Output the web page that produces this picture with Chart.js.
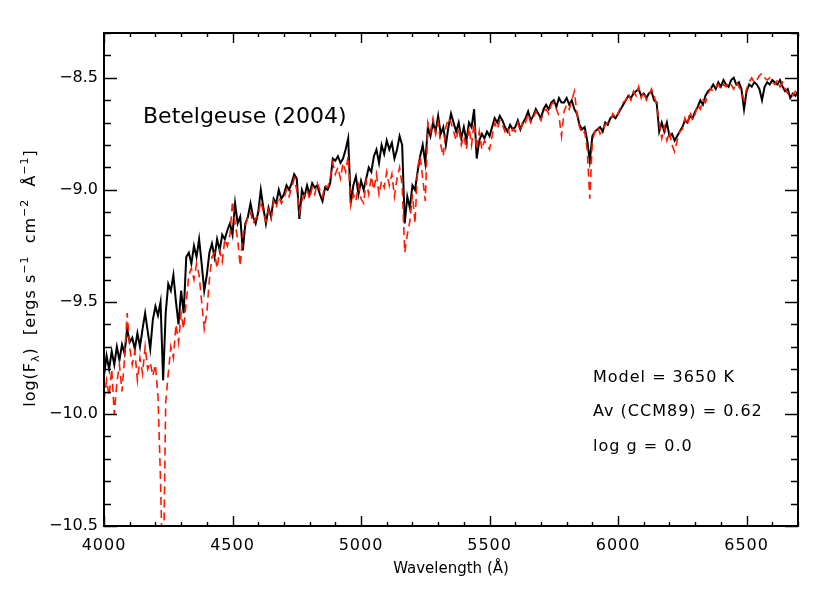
<!DOCTYPE html>
<html>
<head>
<meta charset="utf-8">
<title>Betelgeuse (2004)</title>
<script src="https://cdn.jsdelivr.net/npm/chart.js@4.4.1/dist/chart.umd.min.js"></script>
<style>
    body { margin: 0; background: #fff; }
    #spectrumChart { display: block; }
</style>
</head>
<body>
<canvas id="spectrumChart" width="830" height="593"></canvas>
<script>
// Wavelength grid (Angstrom)
const wavelengths = [
    4000, 4010, 4020, 4030, 4040, 4050, 4060, 4070, 4080, 4090,
    4100, 4110, 4120, 4130, 4140, 4150, 4160, 4170, 4180, 4190,
    4200, 4210, 4220, 4230, 4240, 4250, 4260, 4270, 4280, 4290,
    4300, 4310, 4320, 4330, 4340, 4350, 4360, 4370, 4380, 4390,
    4400, 4410, 4420, 4430, 4440, 4450, 4460, 4470, 4480, 4490,
    4500, 4510, 4520, 4530, 4540, 4550, 4560, 4570, 4580, 4590,
    4600, 4610, 4620, 4630, 4640, 4650, 4660, 4670, 4680, 4690,
    4700, 4710, 4720, 4730, 4740, 4750, 4760, 4770, 4780, 4790,
    4800, 4810, 4820, 4830, 4840, 4850, 4860, 4870, 4880, 4890,
    4900, 4910, 4920, 4930, 4940, 4950, 4960, 4970, 4980, 4990,
    5000, 5010, 5020, 5030, 5040, 5050, 5060, 5070, 5080, 5090,
    5100, 5110, 5120, 5130, 5140, 5150, 5160, 5170, 5180, 5190,
    5200, 5210, 5220, 5230, 5240, 5250, 5260, 5270, 5280, 5290,
    5300, 5310, 5320, 5330, 5340, 5350, 5360, 5370, 5380, 5390,
    5400, 5410, 5420, 5430, 5440, 5450, 5460, 5470, 5480, 5490,
    5500, 5510, 5520, 5530, 5540, 5550, 5560, 5570, 5580, 5590,
    5600, 5610, 5620, 5630, 5640, 5650, 5660, 5670, 5680, 5690,
    5700, 5710, 5720, 5730, 5740, 5750, 5760, 5770, 5780, 5790,
    5800, 5810, 5820, 5830, 5840, 5850, 5860, 5870, 5880, 5890,
    5900, 5910, 5920, 5930, 5940, 5950, 5960, 5970, 5980, 5990,
    6000, 6010, 6020, 6030, 6040, 6050, 6060, 6070, 6080, 6090,
    6100, 6110, 6120, 6130, 6140, 6150, 6160, 6170, 6180, 6190,
    6200, 6210, 6220, 6230, 6240, 6250, 6260, 6270, 6280, 6290,
    6300, 6310, 6320, 6330, 6340, 6350, 6360, 6370, 6380, 6390,
    6400, 6410, 6420, 6430, 6440, 6450, 6460, 6470, 6480, 6490,
    6500, 6510, 6520, 6530, 6540, 6550, 6560, 6570, 6580, 6590,
    6600, 6610, 6620, 6630, 6640, 6650, 6660, 6670, 6680, 6690,
    6700
];

// Observed spectrum (black, solid) - log(F_lambda)
const observedFlux = [
    -9.83, -9.74, -9.80, -9.72, -9.78, -9.70, -9.76, -9.69, -9.73, -9.62,
    -9.68, -9.66, -9.71, -9.64, -9.70, -9.62, -9.55, -9.63, -9.71, -9.58,
    -9.52, -9.56, -9.50, -9.85, -9.55, -9.42, -9.45, -9.38, -9.50, -9.60,
    -9.45, -9.55, -9.30, -9.28, -9.33, -9.25, -9.30, -9.22, -9.33, -9.45,
    -9.38, -9.28, -9.24, -9.30, -9.22, -9.27, -9.20, -9.22, -9.18, -9.15,
    -9.20, -9.06, -9.15, -9.12, -9.27, -9.15, -9.12, -9.06, -9.12, -9.15,
    -9.10, -9.00, -9.08, -9.15, -9.08, -9.12, -9.04, -9.06, -9.00, -9.04,
    -9.02, -8.98, -9.00, -8.97, -8.93, -8.95, -9.13, -9.00, -9.03, -8.98,
    -9.02, -8.97, -8.99, -8.98, -9.02, -9.05, -8.99, -9.00, -8.97, -8.86,
    -8.87, -8.85, -8.88, -8.86, -8.82, -8.77, -9.06, -8.98, -8.94, -9.02,
    -8.96, -9.00, -8.95, -8.90, -8.92, -8.85, -8.82, -8.88, -8.80, -8.84,
    -8.78, -8.82, -8.79, -8.86, -8.82, -8.76, -8.80, -9.15, -9.03, -9.08,
    -8.98, -9.00, -8.92, -8.85, -8.80, -8.88, -8.72, -8.76, -8.70, -8.74,
    -8.67, -8.75, -8.72, -8.80, -8.72, -8.66, -8.70, -8.74, -8.70, -8.77,
    -8.72, -8.78, -8.70, -8.72, -8.64, -8.86, -8.78, -8.75, -8.77, -8.74,
    -8.76, -8.72, -8.68, -8.70, -8.67, -8.69, -8.72, -8.74, -8.71, -8.73,
    -8.72, -8.69, -8.73, -8.70, -8.68, -8.65, -8.69, -8.67, -8.64, -8.66,
    -8.68, -8.64, -8.62, -8.64, -8.61, -8.60, -8.63, -8.59, -8.61, -8.61,
    -8.59, -8.62, -8.60, -8.64, -8.66, -8.71, -8.73, -8.72, -8.78, -8.87,
    -8.76, -8.74, -8.73, -8.72, -8.74, -8.70, -8.71, -8.68, -8.67, -8.68,
    -8.66, -8.64, -8.62, -8.60, -8.58, -8.59, -8.57, -8.56, -8.55, -8.58,
    -8.57, -8.59, -8.57, -8.56, -8.60, -8.61, -8.74, -8.70, -8.74, -8.70,
    -8.76, -8.75, -8.78, -8.76, -8.74, -8.72, -8.69, -8.70, -8.67, -8.68,
    -8.65, -8.63, -8.60, -8.62, -8.58, -8.56, -8.55, -8.53, -8.55, -8.52,
    -8.54, -8.51, -8.53, -8.54, -8.51, -8.50, -8.53, -8.52, -8.55, -8.64,
    -8.56, -8.53, -8.54, -8.52, -8.53, -8.55, -8.60, -8.54, -8.52, -8.53,
    -8.51, -8.52, -8.53, -8.51, -8.54, -8.56, -8.55, -8.59, -8.57, -8.58,
    -8.56
];

// Model spectrum (red, dashed)
const modelFlux = [
    -9.94, -9.85, -9.92, -9.80, -10.00, -9.86, -9.78, -9.90, -9.75, -9.55,
    -9.70, -9.78, -9.72, -9.85, -9.75, -9.82, -9.70, -9.80, -9.77, -9.83,
    -9.78, -9.92, -10.30, -10.80, -9.95, -9.82, -9.70, -9.75, -9.60, -9.68,
    -9.55, -9.62, -9.50, -9.38, -9.35, -9.40, -9.33, -9.38, -9.50, -9.62,
    -9.55, -9.40, -9.30, -9.28, -9.35, -9.27, -9.32, -9.22, -9.25, -9.20,
    -9.05, -9.15, -9.22, -9.34, -9.20, -9.16, -9.12, -9.10, -9.15, -9.13,
    -9.11, -9.05, -9.10, -9.14, -9.09, -9.13, -9.05, -9.08, -9.03, -9.06,
    -9.04, -9.00, -9.03, -8.99, -8.95, -9.00, -9.10, -9.05, -9.02, -9.00,
    -9.04, -8.99, -9.02, -8.97, -9.00, -9.03, -8.98, -8.99, -8.95, -8.88,
    -8.93, -8.90, -8.95, -8.88, -8.92, -8.85, -9.07, -9.02, -9.05, -8.98,
    -9.04, -9.06, -8.96, -9.02, -8.94, -9.00, -8.93, -9.02, -8.96, -8.99,
    -8.92, -8.98, -8.93, -9.03, -8.95, -8.90, -8.98, -9.28, -9.20, -9.14,
    -9.02, -9.15, -8.90, -8.85, -8.95, -9.05, -8.70, -8.74, -8.68, -8.75,
    -8.70, -8.80, -8.85, -8.72, -8.68, -8.70, -8.74, -8.78, -8.72, -8.80,
    -8.76, -8.82, -8.72, -8.80, -8.70, -8.82, -8.74, -8.82, -8.78, -8.80,
    -8.82, -8.76, -8.70, -8.73, -8.69, -8.71, -8.74, -8.72, -8.76, -8.73,
    -8.74, -8.70, -8.74, -8.69, -8.70, -8.66, -8.70, -8.68, -8.65, -8.67,
    -8.69, -8.65, -8.64, -8.66, -8.62, -8.61, -8.64, -8.67, -8.76, -8.65,
    -8.62, -8.64, -8.60, -8.56, -8.66, -8.72, -8.75, -8.74, -8.82, -9.04,
    -8.78, -8.74, -8.72, -8.75, -8.73, -8.71, -8.70, -8.69, -8.66, -8.68,
    -8.66, -8.63, -8.61, -8.60, -8.57, -8.60, -8.56, -8.58, -8.54, -8.59,
    -8.56, -8.60, -8.58, -8.55, -8.58, -8.62, -8.70, -8.77, -8.72, -8.78,
    -8.74, -8.80, -8.83, -8.78, -8.74, -8.73, -8.68, -8.71, -8.65, -8.69,
    -8.66, -8.62, -8.64, -8.60, -8.61, -8.57, -8.55, -8.56, -8.54, -8.53,
    -8.55, -8.53, -8.54, -8.52, -8.53, -8.55, -8.52, -8.54, -8.56, -8.60,
    -8.55, -8.52, -8.50, -8.52, -8.51, -8.49, -8.48, -8.50, -8.51, -8.50,
    -8.52, -8.53, -8.51, -8.54, -8.52, -8.55, -8.57, -8.56, -8.58, -8.56,
    -8.57
];

// Axis tick labels
const xTickLabels = [4000, 4500, 5000, 5500, 6000, 6500];
const yTickLabels = [-8.5, -9.0, -9.5, -10.0, -10.5];

// Annotation texts
const starTitle = 'Betelgeuse (2004)';
const modelNotes = ['Model = 3650 K', 'Av (CCM89) = 0.62', 'log g = 0.0'];

const FONT = '"DejaVu Sans", "Liberation Sans", sans-serif';

// Frame, inward ticks on all sides, labels and texts (IDL style)
const idlAxesPlugin = {
    id: 'idlAxes',
    afterDraw(chart) {
        const ctx = chart.ctx;
        const { left, right, top, bottom } = chart.chartArea;
        const xs = chart.scales.x;
        const ys = chart.scales.y;

        ctx.save();
        ctx.strokeStyle = '#000';
        ctx.fillStyle = '#000';

        // minor / major ticks on the x axis (bottom + top)
        ctx.lineWidth = 1.4;
        ctx.beginPath();
        for (let w = xs.min; w <= xs.max; w += 100) {
            const px = Math.round(xs.getPixelForValue(w)) + 0.5;
            const len = (w % 500 === 0) ? 10 : 4;
            ctx.moveTo(px, bottom); ctx.lineTo(px, bottom - len);
            ctx.moveTo(px, top); ctx.lineTo(px, top + len);
        }
        // y axis (left + right), every 0.1
        for (let k = -105; k <= -83; k++) {
            const py = Math.round(ys.getPixelForValue(k / 10)) + 0.5;
            const len = (k % 5 === 0) ? 13 : 7;
            ctx.moveTo(left, py); ctx.lineTo(left + len, py);
            ctx.moveTo(right, py); ctx.lineTo(right - len, py);
        }
        ctx.stroke();

        // frame
        ctx.lineWidth = 2;
        ctx.strokeRect(left, top, right - left, bottom - top);

        // tick labels
        ctx.font = '16px ' + FONT;
        ctx.textAlign = 'center';
        ctx.textBaseline = 'middle';
        ctx.letterSpacing = '1px';
        xTickLabels.forEach(w => {
            ctx.fillText(String(w), xs.getPixelForValue(w), 546);
        });
        ctx.letterSpacing = '0px';
        ctx.textAlign = 'right';
        yTickLabels.forEach(v => {
            const txt = '\u2212' + Math.abs(v).toFixed(1);
            ctx.fillText(txt, left - 6, ys.getPixelForValue(v));
        });

        // x title
        ctx.textAlign = 'center';
        ctx.font = '15px ' + FONT;
        ctx.fillText('Wavelength (\u00C5)', (left + right) / 2, 569);

        // y title, rotated, with sub/superscripts
        const parts = [
            { t: 'log(F', s: 16, dy: 0 },
            { t: '\u03BB', s: 11, dy: 4 },
            { t: ')  [ergs s', s: 16, dy: 0 },
            { t: '\u22121', s: 11, dy: -7 },
            { t: '  cm', s: 16, dy: 0 },
            { t: '\u22122', s: 11, dy: -7 },
            { t: '  \u00C5', s: 16, dy: 0 },
            { t: '\u22121', s: 11, dy: -7 },
            { t: ']', s: 16, dy: 0 }
        ];
        ctx.letterSpacing = '1px';
        ctx.textBaseline = 'alphabetic';
        ctx.textAlign = 'left';
        let total = 0;
        parts.forEach(p => {
            ctx.font = p.s + 'px ' + FONT;
            p.w = ctx.measureText(p.t).width;
            total += p.w;
        });
        ctx.save();
        ctx.translate(35, 278);
        ctx.rotate(-Math.PI / 2);
        let cx = -total / 2;
        parts.forEach(p => {
            ctx.font = p.s + 'px ' + FONT;
            ctx.fillText(p.t, cx, p.dy);
            cx += p.w;
        });
        ctx.restore();

        // star name
        ctx.letterSpacing = '0px';
        ctx.font = '22px ' + FONT;
        ctx.fillText(starTitle, 143, 123);

        // model parameters
        ctx.letterSpacing = '1px';
        ctx.font = '16px ' + FONT;
        const noteY = [382, 416, 451];
        modelNotes.forEach((txt, i) => ctx.fillText(txt, 593, noteY[i]));

        ctx.restore();
    }
};

const observedPoints = wavelengths.map((w, i) => ({ x: w, y: observedFlux[i] }));
const modelPoints = wavelengths.map((w, i) => ({ x: w, y: modelFlux[i] }));

const canvas = document.getElementById('spectrumChart');
const chart = new Chart(canvas.getContext('2d'), {
    type: 'line',
    data: {
        datasets: [
            {
                label: 'Model',
                data: modelPoints,
                borderColor: 'rgb(255, 25, 0)',
                borderWidth: 1.6,
                borderDash: [8, 5],
                pointRadius: 0,
                order: 1
            },
            {
                label: 'Betelgeuse',
                data: observedPoints,
                borderColor: '#000',
                borderWidth: 2,
                pointRadius: 0,
                order: 2
            }
        ]
    },
    options: {
        responsive: false,
        animation: false,
        layout: { padding: { left: 104, right: 32, top: 33, bottom: 67 } },
        elements: { line: { tension: 0 } },
        scales: {
            x: { type: 'linear', min: 4000, max: 6700, display: false },
            y: { type: 'linear', min: -10.5, max: -8.3, display: false }
        },
        plugins: {
            legend: { display: false },
            tooltip: { enabled: false }
        }
    },
    plugins: [idlAxesPlugin]
});
</script>
</body>
</html>
